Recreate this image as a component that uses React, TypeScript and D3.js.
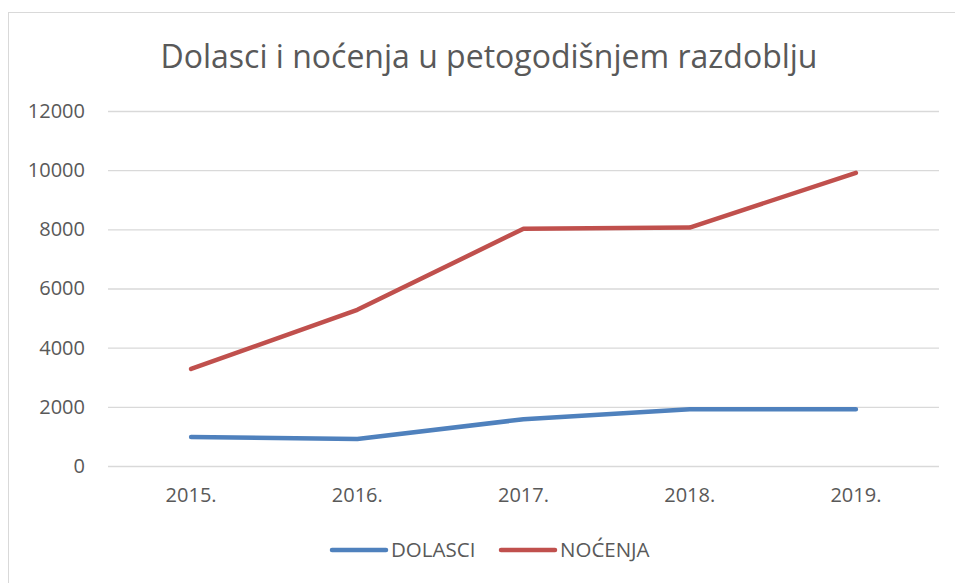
import React, { useRef, useEffect } from 'react';
import * as d3 from 'd3';

const years = ['2015.', '2016.', '2017.', '2018.', '2019.'];
const dolasci = [980, 910, 1580, 1920, 1920];
const nocenja = [3280, 5280, 8020, 8060, 9910];
const yTicks = [0, 2000, 4000, 6000, 8000, 10000, 12000];
const seriesNames = ['DOLASCI', 'NOĆENJA'];
const seriesColors = ['#4F81BD', '#C0504D'];

const W = 955;
const H = 583;
const FONT = '"Open Sans", Lato, sans-serif';
const TEXT = '#595959';

const App = () => {
  const svgRef = useRef<SVGSVGElement>(null);

  useEffect(() => {
    const svg = d3.select(svgRef.current);
    svg.selectAll('*').remove();

    // chart frame
    svg
      .append('rect')
      .attr('x', 8.5)
      .attr('y', 12.5)
      .attr('width', W + 20)
      .attr('height', H + 20)
      .attr('fill', '#fff')
      .attr('stroke', '#D9D9D9');

    svg
      .append('text')
      .attr('x', 489)
      .attr('y', 68)
      .attr('text-anchor', 'middle')
      .attr('font-family', FONT)
      .attr('font-size', 32)
      .attr('fill', TEXT)
      .text('Dolasci i noćenja u petogodišnjem razdoblju');

    const xScale = d3.scaleBand().domain(years).range([108, 939]);
    const yScale = d3.scaleLinear().domain([0, 12000]).range([466, 111]);

    const yAxis = svg
      .append('g')
      .attr('transform', 'translate(108, 0)')
      .call(
        d3
          .axisLeft(yScale)
          .tickValues(yTicks)
          .tickSize(-(939 - 108))
          .tickPadding(23)
          .tickFormat(d => String(d))
      );
    yAxis.select('.domain').remove();
    yAxis.selectAll('line').attr('stroke', '#D9D9D9').attr('stroke-width', 1.3);
    yAxis
      .selectAll('text')
      .attr('font-family', FONT)
      .attr('font-size', 20)
      .attr('fill', TEXT);

    const xAxis = svg
      .append('g')
      .attr('transform', 'translate(0, 466)')
      .call(d3.axisBottom(xScale).tickSize(0).tickPadding(22));
    xAxis.select('.domain').remove();
    xAxis
      .selectAll('text')
      .attr('font-family', FONT)
      .attr('font-size', 20)
      .attr('fill', TEXT);

    const line = d3
      .line<number>()
      .x((_, i) => (xScale(years[i]) as number) + xScale.bandwidth() / 2)
      .y(d => yScale(d));

    [dolasci, nocenja].forEach((values, i) => {
      svg
        .append('path')
        .datum(values)
        .attr('d', line)
        .attr('fill', 'none')
        .attr('stroke', seriesColors[i])
        .attr('stroke-width', 4.5)
        .attr('stroke-linecap', 'round')
        .attr('stroke-linejoin', 'round');
    });

    // legend
    const legendX = [332, 501];
    seriesNames.forEach((name, i) => {
      const g = svg.append('g').attr('transform', `translate(${legendX[i]}, 550)`);
      g.append('line')
        .attr('x1', 0)
        .attr('x2', 54)
        .attr('stroke', seriesColors[i])
        .attr('stroke-width', 4.5)
        .attr('stroke-linecap', 'round');
      g.append('text')
        .attr('x', 59)
        .attr('y', 7)
        .attr('font-family', FONT)
        .attr('font-size', 20.5)
        .attr('fill', TEXT)
        .text(name);
    });
  }, []);

  return (
    <div style={{ position: 'absolute', left: 0, top: 0 }}>
      <svg ref={svgRef} width={W} height={H} style={{ display: 'block' }} />
    </div>
  );
};

export default App;
